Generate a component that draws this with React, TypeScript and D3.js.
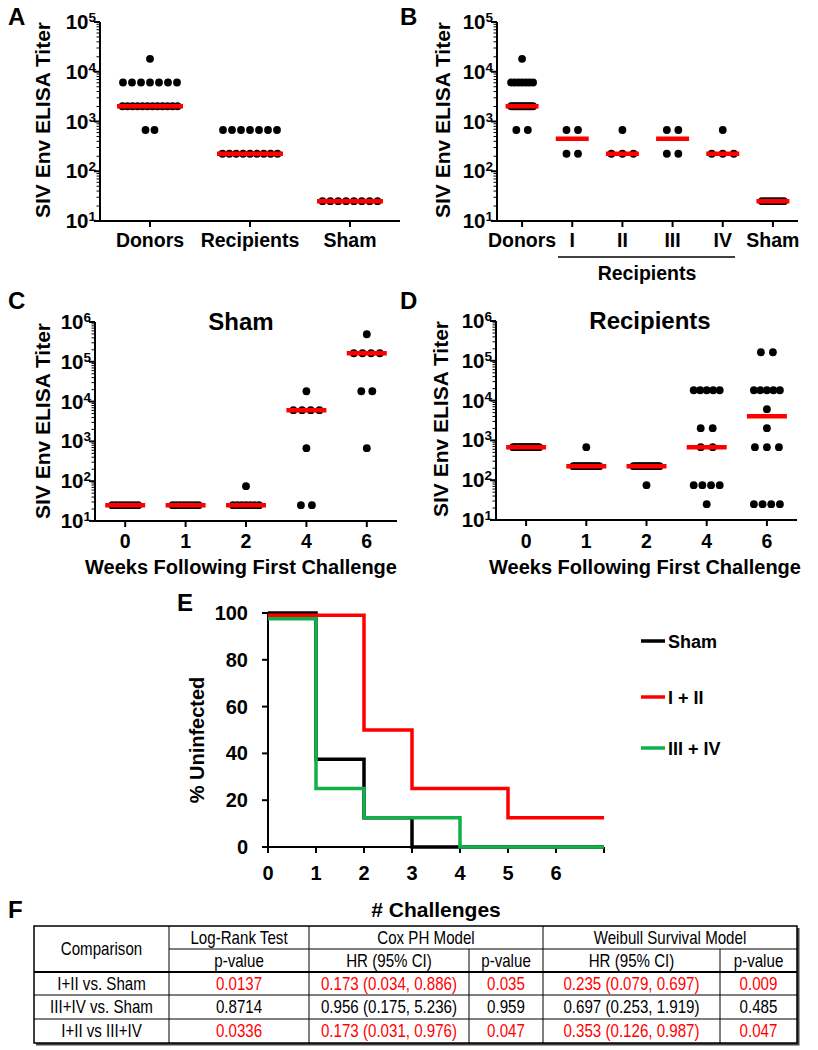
import React from 'react';
import * as d3 from 'd3';

const FONT = "'Liberation Sans', Arial, Helvetica, sans-serif";
const RED = '#ff0000';
const GREEN = '#12b04b';

// ---------- Panel A ----------
const catsA = ['Donors', 'Recipients', 'Sham'];
const donorTiters = [
  18225,
  6075, 6075, 6075, 6075, 6075, 6075, 6075,
  2025, 2025, 2025, 2025, 2025, 2025, 2025, 2025, 2025, 2025, 2025, 2025,
  675, 675,
];
const recipientTiters = [675, 675, 675, 675, 675, 675, 675, 225, 225, 225, 225, 225, 225, 225, 225, 225];
const shamTiters = [25, 25, 25, 25, 25, 25, 25, 25];
const valuesA = [donorTiters, recipientTiters, shamTiters];
const mediansA = [2025, 225, 25];

// ---------- Panel B ----------
const catsB = ['Donors', 'I', 'II', 'III', 'IV', 'Sham'];
const groupI = [675, 675, 225, 225];
const groupII = [675, 225, 225, 225];
const groupIII = [675, 675, 225, 225];
const groupIV = [675, 225, 225, 225];
const valuesB = [donorTiters, groupI, groupII, groupIII, groupIV, shamTiters];
const mediansB = [2025, 450, 225, 450, 225, 25];

// ---------- Panel C (Sham over time) ----------
const weeks = ['0', '1', '2', '4', '6'];
const shamW0 = [25, 25, 25, 25, 25, 25, 25, 25];
const shamW1 = [25, 25, 25, 25, 25, 25, 25, 25];
const shamW2 = [75, 25, 25, 25, 25, 25, 25, 25];
const shamW4 = [18225, 6075, 6075, 6075, 6075, 675, 25, 25];
const shamW6 = [492075, 164025, 164025, 164025, 164025, 18225, 18225, 675];
const valuesC = [shamW0, shamW1, shamW2, shamW4, shamW6];
const mediansC = [25, 25, 25, 6075, 164025];

// ---------- Panel D (Recipients over time) ----------
const recW0 = [675, 675, 675, 675, 675, 675, 675, 675, 675, 675, 675, 675, 675, 675, 675, 675];
const recW1 = [675, 225, 225, 225, 225, 225, 225, 225, 225, 225, 225, 225, 225, 225, 225, 225];
const recW2 = [225, 225, 225, 225, 225, 225, 225, 225, 225, 225, 225, 225, 225, 225, 225, 75];
const recW4 = [18225, 18225, 18225, 18225, 18225, 2025, 2025, 675, 675, 75, 75, 75, 75, 25];
const recW6 = [164025, 164025, 18225, 18225, 18225, 18225, 18225, 6075, 2025, 675, 675, 675, 25, 25, 25, 25];
const valuesD = [recW0, recW1, recW2, recW4, recW6];
const mediansD = [675, 225, 225, 675, 4050];

// ---------- Panel E (survival) ----------
const shamTimes = [0, 1, 2, 3, 7];
const shamPct = [100, 37.5, 12.5, 0, 0];
const i2Times = [0, 2, 3, 5, 7];
const i2Pct = [99, 50, 25, 12.5, 12.5];
const i4Times = [0, 1, 2, 4, 7];
const i4Pct = [97.5, 25, 12.5, 0, 0];
const survTicksX = [0, 1, 2, 3, 4, 5, 6, 7];
const survTickLabelsX = ['0', '1', '2', '3', '4', '5', '6', ''];
const survTicksY = [0, 20, 40, 60, 80, 100];
const legendLabels = ['Sham', 'I + II', 'III + IV'];
const legendColors = ['#000000', RED, GREEN];

// ---------- Panel F (table) ----------
const comparisons = ['I+II vs. Sham', 'III+IV vs. Sham', 'I+II vs III+IV'];
const logRankP = ['0.0137', '0.8714', '0.0336'];
const coxHR = ['0.173 (0.034, 0.886)', '0.956 (0.175, 5.236)', '0.173 (0.031, 0.976)'];
const coxP = ['0.035', '0.959', '0.047'];
const weibullHR = ['0.235 (0.079, 0.697)', '0.697 (0.253, 1.919)', '0.353 (0.126, 0.987)'];
const weibullP = ['0.009', '0.485', '0.047'];
const significant = [true, false, true];

function spread(vals: number[], cx: number, spacing: number, maxSpan: number) {
  const groups = d3.group(vals, (v) => v);
  const out: { x: number; v: number }[] = [];
  for (const [v, arr] of groups) {
    const n = arr.length;
    const s = n > 1 ? Math.min(spacing, maxSpan / (n - 1)) : 0;
    arr.forEach((_, i) => out.push({ x: cx + (i - (n - 1) / 2) * s, v }));
  }
  return out;
}

type ScatterProps = {
  cats: string[];
  values: number[][];
  medians: number[];
  x0: number;
  x1: number;
  yTop: number;
  yBottom: number;
  maxExp: number;
  spacing: number;
  maxSpan: number;
  medW: number;
  catLabelY: number;
  titleX: number;
  titleY: number;
};

function LogScatter(p: ScatterProps) {
  const x = d3.scalePoint<string>().domain(p.cats).range([p.x0, p.x1]).padding(0.5);
  const y = d3.scaleLog().domain([10, Math.pow(10, p.maxExp)]).range([p.yBottom, p.yTop]);
  const majors = d3.range(1, p.maxExp + 1);
  const minors: number[] = [];
  for (let e = 1; e < p.maxExp; e++) for (let k = 2; k <= 9; k++) minors.push(k * Math.pow(10, e));
  return (
    <g>
      <line x1={p.x0} x2={p.x0} y1={p.yTop} y2={p.yBottom + 1} stroke="#000" strokeWidth={2} />
      <line x1={p.x0 - 1} x2={p.x1} y1={p.yBottom} y2={p.yBottom} stroke="#000" strokeWidth={2} />
      {majors.map((e) => (
        <g key={'M' + e}>
          <line x1={p.x0 - 6} x2={p.x0} y1={y(Math.pow(10, e))} y2={y(Math.pow(10, e))} stroke="#000" strokeWidth={2} />
          <text
            x={p.x0 - 4}
            y={y(Math.pow(10, e)) + 7}
            textAnchor="end"
            fontFamily={FONT}
            fontWeight="bold"
            fontSize={20.5}
          >
            10
            <tspan dy={-7} fontSize={13.5}>
              {e}
            </tspan>
          </text>
        </g>
      ))}
      {minors.map((v, i) => (
        <line key={'m' + i} x1={p.x0 - 3.5} x2={p.x0} y1={y(v)} y2={y(v)} stroke="#000" strokeWidth={1} />
      ))}
      {p.cats.map((c) => (
        <line key={'t' + c} x1={x(c)} x2={x(c)} y1={p.yBottom} y2={p.yBottom + 6} stroke="#000" strokeWidth={2} />
      ))}
      {p.cats.map((c, ci) =>
        spread(p.values[ci], x(c) as number, p.spacing, p.maxSpan).map((d, i) => (
          <circle key={c + '-' + i} cx={d.x} cy={y(d.v)} r={3.9} fill="#000" />
        ))
      )}
      {p.cats.map((c, ci) => (
        <line
          key={'med' + c}
          x1={(x(c) as number) - p.medW / 2}
          x2={(x(c) as number) + p.medW / 2}
          y1={y(p.medians[ci])}
          y2={y(p.medians[ci])}
          stroke={RED}
          strokeWidth={4.5}
        />
      ))}
      <text
        transform={`translate(${p.titleX},${p.titleY}) rotate(-90)`}
        textAnchor="middle"
        dy="0.36em"
        fontFamily={FONT}
        fontWeight="bold"
        fontSize={21}
      >
        SIV Env ELISA Titer
      </text>
      {p.cats.map((c) => (
        <text key={'l' + c} x={x(c)} y={p.catLabelY} textAnchor="middle" fontFamily={FONT} fontWeight="bold" fontSize={19.5}>
          {c}
        </text>
      ))}
    </g>
  );
}

function Survival() {
  const xE = d3.scaleLinear().domain([0, 7]).range([268, 604]);
  const yE = d3.scaleLinear().domain([0, 100]).range([847, 613]);
  const line = d3
    .line<[number, number]>()
    .x((d) => xE(d[0]))
    .y((d) => yE(d[1]))
    .curve(d3.curveStepAfter);
  const series = [
    { t: shamTimes, v: shamPct, c: legendColors[0] },
    { t: i2Times, v: i2Pct, c: legendColors[1] },
    { t: i4Times, v: i4Pct, c: legendColors[2] },
  ];
  const legendY = [641, 697, 748];
  return (
    <g>
      <line x1={xE(0)} x2={xE(0)} y1={yE(100)} y2={yE(0) + 1} stroke="#000" strokeWidth={2} />
      <line x1={xE(0) - 1} x2={xE(7)} y1={yE(0)} y2={yE(0)} stroke="#000" strokeWidth={2} />
      {survTicksY.map((t) => (
        <g key={'y' + t}>
          <line x1={xE(0) - 6} x2={xE(0)} y1={yE(t)} y2={yE(t)} stroke="#000" strokeWidth={2} />
          <text x={248} y={yE(t) + 7} textAnchor="end" fontFamily={FONT} fontWeight="bold" fontSize={20}>
            {t}
          </text>
        </g>
      ))}
      {survTicksX.map((t, i) => (
        <g key={'x' + t}>
          <line x1={xE(t)} x2={xE(t)} y1={yE(0)} y2={yE(0) + 6} stroke="#000" strokeWidth={2} />
          <text x={xE(t)} y={880} textAnchor="middle" fontFamily={FONT} fontWeight="bold" fontSize={20}>
            {survTickLabelsX[i]}
          </text>
        </g>
      ))}
      {series.map((s, i) => (
        <path
          key={'s' + i}
          d={line(s.t.map((tt, j) => [tt, s.v[j]] as [number, number])) || ''}
          fill="none"
          stroke={s.c}
          strokeWidth={3.5}
        />
      ))}
      <text
        transform="translate(197,740) rotate(-90)"
        textAnchor="middle"
        dy="0.36em"
        fontFamily={FONT}
        fontWeight="bold"
        fontSize={20}
      >
        % Uninfected
      </text>
      <text x={436} y={917} textAnchor="middle" fontFamily={FONT} fontWeight="bold" fontSize={21}>
        # Challenges
      </text>
      {legendLabels.map((l, i) => (
        <g key={'lg' + i}>
          <line x1={641} x2={665} y1={legendY[i]} y2={legendY[i]} stroke={legendColors[i]} strokeWidth={3.5} />
          <text x={668} y={legendY[i] + 6.5} fontFamily={FONT} fontWeight="bold" fontSize={18}>
            {l}
          </text>
        </g>
      ))}
    </g>
  );
}

function Table() {
  const colX = [34, 169, 309, 469, 543, 720, 797];
  const rowY = [926, 949, 972, 995, 1019, 1043];
  const cx = (a: number, b: number) => (colX[a] + colX[b]) / 2;
  const cy = (a: number, b: number) => (rowY[a] + rowY[b]) / 2 + 6;
  const T = (x: number, y: number, s: string, color = '#000', key?: string) => (
    <text
      key={key}
      transform={`translate(${x},${y}) scale(0.84,1)`}
      textAnchor="middle"
      fontFamily={FONT}
      fontSize={18}
      fill={color}
    >
      {s}
    </text>
  );
  return (
    <g>
      <rect x={36} y={928} width={763.5} height={117.5} fill="#444" />
      <rect x={colX[0]} y={rowY[0]} width={colX[6] - colX[0]} height={rowY[5] - rowY[0]} fill="#fff" stroke="#000" strokeWidth={1.5} />
      <line x1={colX[1]} x2={colX[6]} y1={rowY[1]} y2={rowY[1]} stroke="#000" strokeWidth={1} />
      <line x1={colX[0]} x2={colX[6]} y1={rowY[2]} y2={rowY[2]} stroke="#000" strokeWidth={2} />
      <line x1={colX[0]} x2={colX[6]} y1={rowY[3]} y2={rowY[3]} stroke="#000" strokeWidth={1} />
      <line x1={colX[0]} x2={colX[6]} y1={rowY[4]} y2={rowY[4]} stroke="#000" strokeWidth={1} />
      {[1, 2, 4].map((c) => (
        <line key={'v' + c} x1={colX[c]} x2={colX[c]} y1={rowY[0]} y2={rowY[5]} stroke="#000" strokeWidth={1} />
      ))}
      {[3, 5].map((c) => (
        <line key={'w' + c} x1={colX[c]} x2={colX[c]} y1={rowY[1]} y2={rowY[5]} stroke="#000" strokeWidth={1} />
      ))}
      {T(cx(0, 1), cy(0, 2), 'Comparison', '#000', 'h0')}
      {T(cx(1, 2), cy(0, 1), 'Log-Rank Test', '#000', 'h1')}
      {T(cx(2, 4), cy(0, 1), 'Cox PH Model', '#000', 'h2')}
      {T(cx(4, 6), cy(0, 1), 'Weibull Survival Model', '#000', 'h3')}
      {T(cx(1, 2), cy(1, 2), 'p-value', '#000', 'h4')}
      {T(cx(2, 3), cy(1, 2), 'HR (95% CI)', '#000', 'h5')}
      {T(cx(3, 4), cy(1, 2), 'p-value', '#000', 'h6')}
      {T(cx(4, 5), cy(1, 2), 'HR (95% CI)', '#000', 'h7')}
      {T(cx(5, 6), cy(1, 2), 'p-value', '#000', 'h8')}
      {comparisons.map((c, i) => {
        const col = significant[i] ? RED : '#000';
        const r = i + 2;
        return (
          <g key={'r' + i}>
            {T(cx(0, 1), cy(r, r + 1), c)}
            {T(cx(1, 2), cy(r, r + 1), logRankP[i], col)}
            {T(cx(2, 3), cy(r, r + 1), coxHR[i], col)}
            {T(cx(3, 4), cy(r, r + 1), coxP[i], col)}
            {T(cx(4, 5), cy(r, r + 1), weibullHR[i], col)}
            {T(cx(5, 6), cy(r, r + 1), weibullP[i], col)}
          </g>
        );
      })}
    </g>
  );
}

const panelLetter = (s: string, x: number, y: number) => (
  <text key={s} x={x} y={y} fontFamily={FONT} fontWeight="bold" fontSize={24}>
    {s}
  </text>
);

export default function App() {
  return (
    <svg
      width={818}
      height={1050}
      viewBox="0 0 818 1050"
      style={{ position: 'absolute', left: 0, top: 0, background: '#fff' }}
    >
      <rect x={0} y={0} width={818} height={1050} fill="#fff" />
      {panelLetter('A', 8, 25)}
      {panelLetter('B', 400, 25)}
      {panelLetter('C', 8, 309)}
      {panelLetter('D', 400, 309)}
      {panelLetter('E', 177, 611)}
      {panelLetter('F', 8, 918)}
      <LogScatter
        cats={catsA}
        values={valuesA}
        medians={mediansA}
        x0={100}
        x1={400}
        yTop={22}
        yBottom={221}
        maxExp={5}
        spacing={9}
        maxSpan={55}
        medW={66}
        catLabelY={247}
        titleX={42}
        titleY={120}
      />
      <LogScatter
        cats={catsB}
        values={valuesB}
        medians={mediansB}
        x0={497}
        x1={798}
        yTop={22}
        yBottom={221}
        maxExp={5}
        spacing={11.5}
        maxSpan={22}
        medW={33}
        catLabelY={247}
        titleX={442}
        titleY={120}
      />
      <line x1={558} x2={735} y1={257} y2={257} stroke="#000" strokeWidth={1.5} />
      <text x={647} y={280} textAnchor="middle" fontFamily={FONT} fontWeight="bold" fontSize={19.5}>
        Recipients
      </text>
      <LogScatter
        cats={weeks}
        values={valuesC}
        medians={mediansC}
        x0={95}
        x1={397}
        yTop={322}
        yBottom={521}
        maxExp={6}
        spacing={11}
        maxSpan={26}
        medW={40}
        catLabelY={548}
        titleX={42}
        titleY={421}
      />
      <text x={241} y={330} textAnchor="middle" fontFamily={FONT} fontWeight="bold" fontSize={24}>
        Sham
      </text>
      <text x={241} y={574} textAnchor="middle" fontFamily={FONT} fontWeight="bold" fontSize={20}>
        Weeks Following First Challenge
      </text>
      <LogScatter
        cats={weeks}
        values={valuesD}
        medians={mediansD}
        x0={496}
        x1={797}
        yTop={321}
        yBottom={520}
        maxExp={6}
        spacing={12}
        maxSpan={26}
        medW={40}
        catLabelY={548}
        titleX={440}
        titleY={419}
      />
      <text x={650} y={329} textAnchor="middle" fontFamily={FONT} fontWeight="bold" fontSize={24}>
        Recipients
      </text>
      <text x={645} y={574} textAnchor="middle" fontFamily={FONT} fontWeight="bold" fontSize={20}>
        Weeks Following First Challenge
      </text>
      <Survival />
      <Table />
    </svg>
  );
}
